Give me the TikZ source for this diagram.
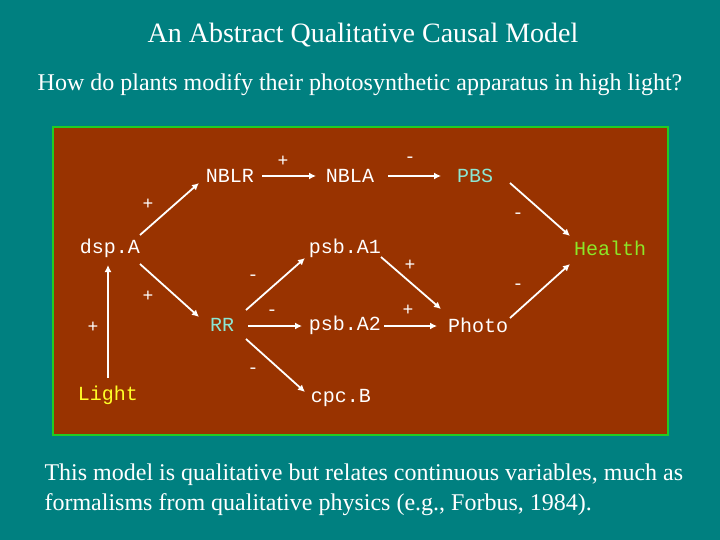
\documentclass[tikz,border=0pt]{standalone}
\usepackage{fontspec}
\setmainfont{Liberation Serif}
\setmonofont{Liberation Mono}
\usetikzlibrary{arrows.meta}
\begin{document}
\begin{tikzpicture}[x=1pt,y=-1pt,
  var/.style={font=\ttfamily\fontsize{20}{22}\selectfont,text=white,inner sep=1pt},
  sgn/.style={font=\ttfamily\fontsize{18}{18}\selectfont,text=white,inner sep=0pt},
  arr/.style={draw=white,line width=1.8pt,-{Latex[length=7pt,width=7pt]}}]
\fill[fill={rgb,255:red,0;green,128;blue,128}] (0,0) rectangle (720,540);
\useasboundingbox (0,0) rectangle (720,540);
\definecolor{bx}{RGB}{153,51,0}
\definecolor{bd}{RGB}{34,204,34}
\definecolor{cy}{RGB}{140,230,210}
\definecolor{gr}{RGB}{140,230,40}
\definecolor{ye}{RGB}{255,255,40}
\node[font=\fontsize{28}{32}\selectfont,text=white] (title) at (363,35) {An Abstract Qualitative Causal Model};
\node[font=\fontsize{24}{28}\selectfont,text=white] (sub) at (360,85) {How do plants modify their photosynthetic apparatus in high light?};
\draw[bd,line width=2pt,fill=bx] (53,127) rectangle (668,435);
\node[var] (NBLR) at (230,176) {NBLR};
\node[var] (NBLA) at (350,176) {NBLA};
\node[var,text=cy] (PBS) at (475,176) {PBS};
\node[var] (dspA) at (110,248) {dsp.A};
\node[var] (psbA1) at (345,248) {psb.A1};
\node[var,text=gr] (Health) at (610,248) {Health};
\node[var,text=cy] (RR) at (222,325) {RR};
\node[var] (psbA2) at (345,325) {psb.A2};
\node[var] (Photo) at (478,325) {Photo};
\node[var,text=ye] (Light) at (108,395) {Light};
\node[var] (cpcB) at (341,398) {cpc.B};
\coordinate (a1) at (262,176); \coordinate (b1) at (316,176);
\coordinate (a2) at (388,176); \coordinate (b2) at (441,176);
\coordinate (a3) at (510,183); \coordinate (b3) at (570,236);
\coordinate (a4) at (510,318); \coordinate (b4) at (570,264);
\coordinate (a5) at (140,235); \coordinate (b5) at (199,183);
\coordinate (a6) at (140,264); \coordinate (b6) at (199,317);
\coordinate (a7) at (108,378); \coordinate (b7) at (108,265);
\coordinate (a8) at (246,310); \coordinate (b8) at (305,258);
\coordinate (a9) at (248,326); \coordinate (b9) at (302,326);
\coordinate (a10) at (246,339); \coordinate (b10) at (305,392);
\coordinate (a11) at (381,257); \coordinate (b11) at (441,309);
\coordinate (a12) at (384,326); \coordinate (b12) at (437,326);
\foreach \i in {1,...,12} {\draw[arr] (a\i) -- (b\i);}
\node[sgn] (s1) at (283,161) {+};
\node[sgn] (s2) at (410,160) {-};
\node[sgn] (s3) at (148,204) {+};
\node[sgn] (s4) at (518,216) {-};
\node[sgn] (s5) at (148,296) {+};
\node[sgn] (s6) at (93,327) {+};
\node[sgn] (s7) at (253,278) {-};
\node[sgn] (s8) at (272,313) {-};
\node[sgn] (s9) at (253,371) {-};
\node[sgn] (s10) at (410,265) {+};
\node[sgn] (s11) at (408,310) {+};
\node[sgn] (s12) at (518,287) {-};
\node[font=\fontsize{24}{30}\selectfont,text=white,align=left,anchor=west] (foot) at (41,490) {This model is qualitative but relates continuous variables, much as\\formalisms from qualitative physics (e.g., Forbus, 1984).};
\end{tikzpicture}
\end{document}
